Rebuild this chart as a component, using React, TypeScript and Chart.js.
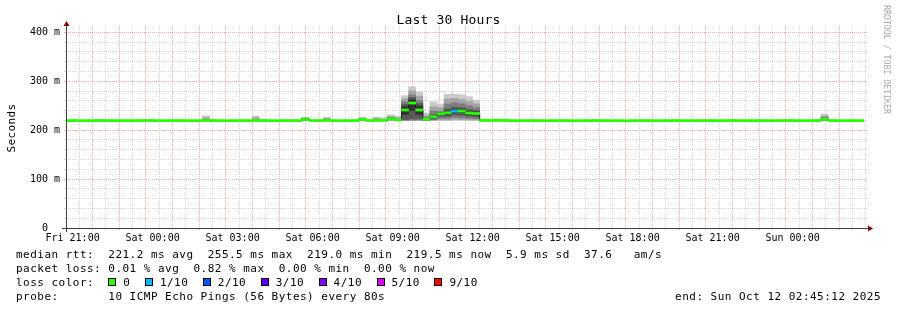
import React, { useEffect, useRef } from 'react';
import { Chart, registerables } from 'chart.js';

Chart.register(...registerables);

// ---------- text ----------
const TITLE = 'Last 30 Hours';
const Y_AXIS_LABEL = 'Seconds';
const WATERMARK = 'RRDTOOL / TOBI OETIKER';
const legendRtt = 'median rtt:  221.2 ms avg  255.5 ms max  219.0 ms min  219.5 ms now  5.9 ms sd  37.6   am/s';
const legendLoss = 'packet loss: 0.01 % avg  0.82 % max  0.00 % min  0.00 % now';
const legendLossColorTitle = 'loss color:';
const legendProbe = 'probe:       10 ICMP Echo Pings (56 Bytes) every 80s';
const legendEnd = 'end: Sun Oct 12 02:45:12 2025';

// ---------- time axis (hours since Fri 20:45:12) ----------
const SPAN_HOURS = 30;
const BIN_SECONDS = 960; // 12 x 80 s
const FIRST_BOUNDARY_S = 168; // first bin boundary after the graph start
const FIRST_TICK_H = 14.8 / 60; // Fri 21:00
const xTickLabels = [
  'Fri 21:00', 'Sat 00:00', 'Sat 03:00', 'Sat 06:00', 'Sat 09:00',
  'Sat 12:00', 'Sat 15:00', 'Sat 18:00', 'Sat 21:00', 'Sun 00:00',
];

// ---------- value axis (ms) ----------
const Y_UPPER_LIMIT = 408.8;
const yMajorTicks = [0, 100, 200, 300, 400];
const yTickLabels = ['0  ', '100 m', '200 m', '300 m', '400 m'];

// ---------- median rtt per 16-minute bin (first entry is the partial bin before the first boundary) ----------
const medianMs = [
  219.6, 219.5, 219.6, 219.4, 219.5, 219.7, 219.6, 219.5, 219.4, 219.6,
  219.5, 219.6, 219.7, 219.5, 219.4, 219.5, 219.6, 219.5, 219.3, 219.5,
  219.8, 219.6, 219.5, 219.4, 219.5, 219.6, 219.5, 219.8, 219.6, 219.5,
  219.4, 219.5, 219.6, 219.5, 222.5, 219.6, 219.5, 219.9, 219.5, 219.4,
  219.5, 219.6, 222.0, 219.7, 219.9, 220.0, 223.5, 221.0, 241.2, 255.5,
  241.2, 222.5, 227.5, 233.5, 235.5, 239.0, 239.0, 235.0, 234.0, 219.8,
  219.7, 219.8, 219.7, 219.5, 219.4, 219.5, 219.6, 219.5, 219.4, 219.5,
  219.6, 219.5, 219.3, 219.4, 219.5, 219.6, 219.5, 219.4, 219.5, 219.0,
  219.4, 219.5, 219.6, 219.5, 219.4, 219.5, 219.6, 219.5, 219.4, 219.5,
  219.6, 219.5, 219.4, 219.5, 219.6, 219.5, 219.4, 219.5, 219.6, 219.5,
  219.4, 219.5, 219.6, 219.5, 219.4, 219.5, 219.6, 222.2, 219.6, 219.5,
  219.4, 219.5, 219.5,
];

// ---------- packet loss ----------
const lossBins = [54];
const lossLevels = [1];
const lossColors = ['#26ff00', '#00b8ff', '#0059ff', '#5e00ff', '#7e00ff', '#dd00ff', '#ff0000'];
const lossLabels = ['0', '1/10', '2/10', '3/10', '4/10', '5/10', '9/10'];

// ---------- smoke: the ten sorted ping rtts of bins that show spread ----------
const smokeBins = [19, 20, 26, 27, 33, 36, 41, 43, 44, 45, 46, 47, 48, 49, 50, 51, 52, 53, 54, 55, 56, 57, 58, 59, 60, 61, 106];
const smokePings = [
  [219.3, 219.4, 219.5, 219.6, 219.7, 219.9, 220.1, 220.6, 225.5, 229.5],
  [219.2, 219.3, 219.4, 219.5, 219.6, 219.7, 219.8, 220.0, 220.6, 222.8],
  [219.3, 219.4, 219.5, 219.6, 219.7, 219.9, 220.1, 220.6, 225.5, 229.0],
  [219.2, 219.3, 219.4, 219.5, 219.6, 219.7, 219.8, 220.0, 220.6, 222.6],
  [219.5, 219.8, 220.5, 221.2, 222.0, 223.0, 223.5, 224.0, 225.0, 226.3],
  [219.3, 219.4, 219.5, 219.6, 219.8, 220.0, 220.3, 221.0, 224.0, 226.3],
  [219.4, 219.7, 220.2, 221.0, 221.7, 222.3, 223.0, 223.6, 224.5, 226.5],
  [219.3, 219.4, 219.5, 219.7, 219.8, 220.0, 220.4, 221.2, 224.0, 227.0],
  [219.3, 219.5, 219.6, 219.8, 219.9, 220.1, 220.4, 221.0, 222.0, 226.0],
  [219.6, 220.3, 221.0, 222.0, 223.0, 224.0, 225.0, 226.0, 228.0, 231.5],
  [219.4, 219.7, 220.0, 220.4, 220.8, 221.2, 221.8, 222.8, 225.5, 229.0],
  [219.2, 219.6, 220.3, 221.5, 232.0, 248.0, 252.5, 258.0, 264.0, 270.5],
  [219.3, 219.8, 221.0, 223.0, 240.0, 262.0, 266.5, 272.0, 280.0, 289.0],
  [219.2, 219.8, 221.0, 224.0, 232.0, 249.0, 254.5, 260.5, 269.5, 278.0],
  [219.3, 219.8, 220.4, 221.0, 222.0, 223.0, 224.0, 226.0, 230.0, 235.0],
  [219.4, 220.2, 221.5, 223.0, 226.0, 229.0, 231.5, 239.0, 248.0, 258.0],
  [219.6, 221.0, 224.0, 228.0, 232.0, 235.0, 236.5, 238.0, 245.5, 253.5],
  [219.6, 221.0, 224.0, 228.0, 232.5, 239.0, 243.5, 253.5, 264.0, 273.5],
  [219.8, 222.0, 226.0, 231.0, 236.0, 242.0, 247.0, 256.0, 265.0, 274.0],
  [219.7, 221.5, 225.0, 230.0, 236.0, 242.0, 246.0, 254.0, 262.5, 272.0],
  [219.6, 221.0, 224.0, 228.0, 232.0, 238.0, 242.0, 250.0, 259.0, 268.5],
  [219.5, 220.6, 223.0, 227.0, 231.0, 237.0, 240.0, 246.0, 254.0, 261.5],
  [219.2, 219.3, 219.4, 219.5, 219.6, 219.7, 219.8, 220.0, 220.8, 223.0],
  [219.2, 219.3, 219.4, 219.5, 219.6, 219.7, 219.8, 220.0, 220.6, 222.5],
  [219.2, 219.3, 219.4, 219.5, 219.6, 219.7, 219.8, 220.1, 221.0, 223.5],
  [219.2, 219.3, 219.4, 219.5, 219.6, 219.7, 219.8, 220.0, 220.8, 223.0],
  [219.5, 219.8, 220.3, 221.0, 221.8, 222.6, 223.4, 226.0, 229.0, 233.0],
];

// ---------- styles ----------
const smokeShades = ['#cacaca', '#a4a4a4', '#7e7e7e', '#585858', '#323232'];
const GRID = 'rgba(150,150,150,0.42)';
const MGRID = 'rgba(235,70,70,0.45)';
const AXIS_COLOR = '#404040';
const ARROW_COLOR = '#7f0000';
const MEDIAN_LINE = '#202020';
const MONO = '"DejaVu Sans Mono"';
const CANVAS_HEIGHT_PX = 200;
const LOSS_BAND_HALF_PX = 1.05;
const X_OVERSHOOT_PX = 2;
const PX_PER_HOUR = 800 / SPAN_HOURS;

const binHour = (k: number) => (FIRST_BOUNDARY_S + (k + 0.5) * BIN_SECONDS) / 3600;
const lossLevelFor = (k: number) => {
  const j = lossBins.indexOf(k);
  return j >= 0 ? lossLevels[j] : 0;
};

function drawMono(
  ctx: CanvasRenderingContext2D, text: string, x: number, y: number,
  size: number, advance: number, align: CanvasTextAlign = 'left', color = '#000'
) {
  ctx.font = `${size}px ${MONO}`;
  (ctx as any).letterSpacing = '0px';
  const natural = ctx.measureText('0').width;
  (ctx as any).letterSpacing = `${advance - natural}px`;
  ctx.textAlign = align;
  ctx.textBaseline = 'alphabetic';
  ctx.fillStyle = color;
  ctx.fillText(text, x, y);
  (ctx as any).letterSpacing = '0px';
}

const rrdDecor = {
  id: 'rrdDecor',
  beforeDraw(chart: any) {
    const { ctx, width, height } = chart;
    ctx.save();
    ctx.fillStyle = '#ffffff';
    ctx.fillRect(0, 0, width, height);
    ctx.restore();
  },
  afterDraw(chart: any) {
    const ctx: CanvasRenderingContext2D = chart.ctx;
    const xs = chart.scales.x;
    const ys = chart.scales.y;
    const x0 = Math.round(xs.getPixelForValue(0));
    const x1 = Math.round(xs.getPixelForValue(SPAN_HOURS));
    const y0 = Math.round(ys.getPixelForValue(0));
    const yTop = Math.round(ys.getPixelForValue(Y_UPPER_LIMIT));
    ctx.save();
    // axes
    ctx.strokeStyle = AXIS_COLOR;
    ctx.lineWidth = 1;
    ctx.setLineDash([]);
    ctx.beginPath();
    ctx.moveTo(x0 - 4, y0 + 0.5);
    ctx.lineTo(x1 + 4, y0 + 0.5);
    ctx.moveTo(x0 + 0.5, y0 + 4);
    ctx.lineTo(x0 + 0.5, yTop - 4);
    ctx.stroke();
    // arrows
    ctx.fillStyle = ARROW_COLOR;
    ctx.beginPath();
    ctx.moveTo(x1 + 2, y0 - 2.5);
    ctx.lineTo(x1 + 2, y0 + 3.5);
    ctx.lineTo(x1 + 7, y0 + 0.5);
    ctx.closePath();
    ctx.fill();
    ctx.beginPath();
    ctx.moveTo(x0 - 2.5, yTop - 2);
    ctx.lineTo(x0 + 3.5, yTop - 2);
    ctx.lineTo(x0 + 0.5, yTop - 7);
    ctx.closePath();
    ctx.fill();

    // title
    drawMono(ctx, TITLE, 448.5, 23.5, 13, 8, 'center');

    // vertical unit label
    ctx.save();
    ctx.translate(15, (y0 + yTop) / 2);
    ctx.rotate(-Math.PI / 2);
    drawMono(ctx, Y_AXIS_LABEL, 0, 0, 11, 7, 'center');
    ctx.restore();

    // watermark
    ctx.save();
    ctx.translate(884, 59.5);
    ctx.rotate(Math.PI / 2);
    drawMono(ctx, WATERMARK, 0, 0, 8.2, 4.95, 'center', '#a8a8a8');
    ctx.restore();

    // legend
    const CW = 7.1;
    const lx = 16;
    drawMono(ctx, legendRtt, lx, 257.5, 11, CW);
    drawMono(ctx, legendLoss, lx, 271.5, 11, CW);
    drawMono(ctx, legendLossColorTitle, lx, 285.5, 11, CW);
    let bx = lx + 13 * CW;
    lossLabels.forEach((lab, i) => {
      const bxr = Math.round(bx);
      ctx.fillStyle = lossColors[i];
      ctx.fillRect(bxr, 278, 8, 8);
      ctx.strokeStyle = '#000';
      ctx.lineWidth = 1;
      ctx.strokeRect(bxr + 0.5, 278.5, 7, 7);
      const tx = bx + 15;
      drawMono(ctx, lab, tx, 285.5, 11, CW);
      bx = tx + lab.length * CW + 14.5;
    });
    drawMono(ctx, legendProbe, lx, 299.5, 11, CW);
    drawMono(ctx, legendEnd, 881, 299.5, 11, CW, 'right');
    ctx.restore();
  },
};

export default function App() {
  const ref = useRef<HTMLCanvasElement>(null);

  useEffect(() => {
    document.body.style.margin = '0';
    const canvas = ref.current;
    if (!canvas) return;

    const halfMs = (LOSS_BAND_HALF_PX * Y_UPPER_LIMIT) / CANVAS_HEIGHT_PX;

    const smokeSets = smokeShades.map((shade, b) => ({
      type: 'bar' as const,
      label: `smoke ${b + 1}-${10 - b}`,
      data: smokeBins.map((k, j) => ({ x: binHour(k), y: [smokePings[j][b], smokePings[j][9 - b]] })),
      backgroundColor: shade,
      borderWidth: 0,
      grouped: false,
      barPercentage: 1,
      categoryPercentage: 1,
      inflateAmount: 0.33,
      order: 10 - b,
    }));

    const medianLine = {
      type: 'line' as const,
      label: 'median',
      data: medianMs.map((v, i) => ({ x: binHour(i - 1), y: v })),
      borderColor: MEDIAN_LINE,
      borderWidth: 1,
      pointRadius: 0,
      stepped: 'middle' as const,
      fill: false,
      order: 1,
    };

    const lossBand = {
      type: 'bar' as const,
      label: 'median loss colour',
      data: medianMs.map((v, i) => ({ x: binHour(i - 1), y: [v - halfMs, v + halfMs] })),
      backgroundColor: medianMs.map((_, i) => lossColors[lossLevelFor(i - 1)]),
      borderWidth: 0,
      grouped: false,
      barPercentage: 1,
      categoryPercentage: 1,
      inflateAmount: 0.33,
      order: 0,
    };

    const xMax = SPAN_HOURS + X_OVERSHOOT_PX / PX_PER_HOUR;

    const chart = new Chart(canvas, {
      type: 'bar',
      data: { datasets: [lossBand as any, medianLine as any, ...(smokeSets as any[])] },
      options: {
        responsive: false,
        animation: false,
        devicePixelRatio: 1,
        events: [],
        layout: { padding: { left: 0, right: 897 - 866 - X_OVERSHOOT_PX, top: 28 - X_OVERSHOOT_PX, bottom: 0 } },
        plugins: { legend: { display: false }, tooltip: { enabled: false }, title: { display: false } },
        scales: {
          x: {
            type: 'linear',
            min: 0,
            max: xMax,
            offset: false,
            afterBuildTicks: (s: any) => {
              const t: { value: number }[] = [];
              for (let v = FIRST_TICK_H; v <= xMax; v += 0.5) t.push({ value: v });
              s.ticks = t;
            },
            afterFit: (s: any) => { s.height = 310 - 228; },
            grid: {
              color: (c: any) => (c.index % 2 === 0 ? MGRID : GRID),
              tickColor: (c: any) => (c.index % 2 === 0 ? MGRID : GRID),
              tickLength: 2,
              lineWidth: 1,
              drawTicks: true,
            },
            border: { display: false, dash: [1, 1] },
            ticks: {
              autoSkip: false,
              maxRotation: 0,
              minRotation: 0,
              padding: 2.5,
              color: '#000',
              font: { family: 'DejaVu Sans Mono', size: 10 },
              callback: (_v: any, i: number) => (i % 6 === 0 ? xTickLabels[i / 6] ?? '' : ''),
            },
          },
          y: {
            type: 'linear',
            min: 0,
            max: (Y_UPPER_LIMIT * (CANVAS_HEIGHT_PX + X_OVERSHOOT_PX)) / CANVAS_HEIGHT_PX,
            afterBuildTicks: (s: any) => {
              const t: { value: number }[] = [];
              for (let v = 0; v <= 400; v += 20) t.push({ value: v });
              s.ticks = t;
            },
            afterFit: (s: any) => { s.width = 66; },
            grid: {
              color: (c: any) => (c.tick && c.tick.value % 100 === 0 ? MGRID : GRID),
              tickColor: (c: any) => (c.tick && c.tick.value % 100 === 0 ? MGRID : GRID),
              tickLength: 2,
              lineWidth: 1,
              drawTicks: true,
            },
            border: { display: false, dash: [1, 1] },
            ticks: {
              autoSkip: false,
              padding: 4,
              color: '#000',
              font: { family: 'DejaVu Sans Mono', size: 10 },
              callback: (v: any) => {
                const i = yMajorTicks.indexOf(Number(v));
                return i >= 0 ? yTickLabels[i] : '';
              },
            },
          },
        },
      },
      plugins: [rrdDecor],
    } as any);

    return () => chart.destroy();
  }, []);

  return (
    <canvas
      ref={ref}
      width={897}
      height={310}
      style={{ display: 'block', width: 897, height: 310 }}
    />
  );
}
